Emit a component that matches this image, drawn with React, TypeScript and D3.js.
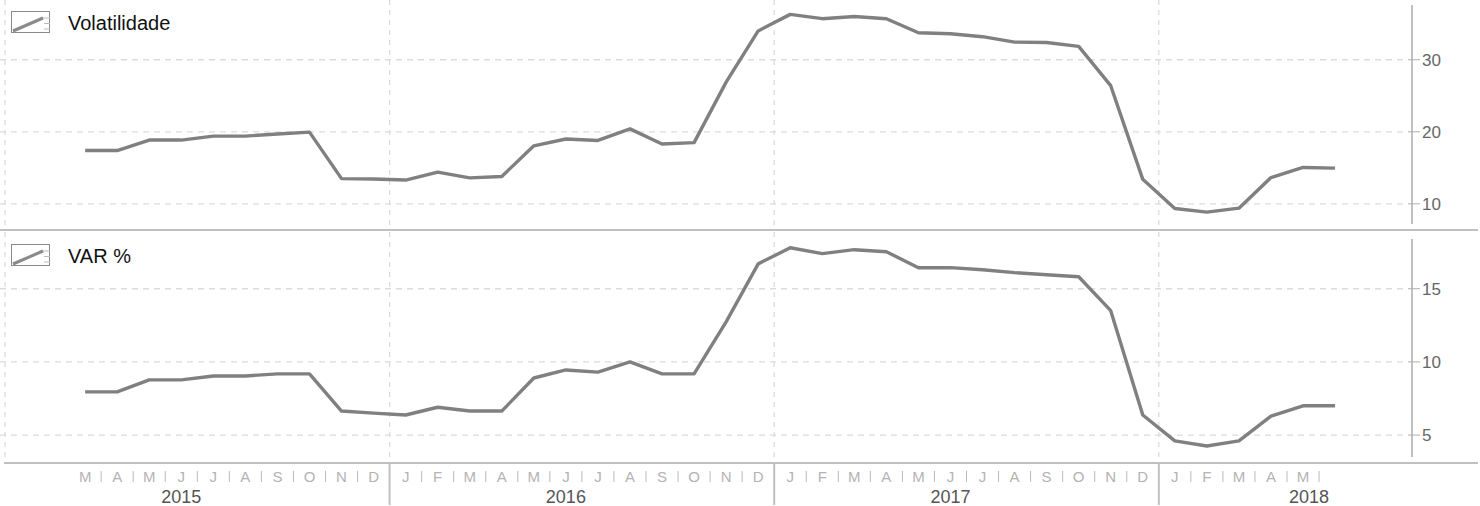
import React from 'react';
import * as d3 from 'd3';

// Month initials (Portuguese)
const monthInitials = ['J', 'F', 'M', 'A', 'M', 'J', 'J', 'A', 'S', 'O', 'N', 'D'];
const years = [2015, 2016, 2017, 2018];
// data from March 2015 (month index 2 counted from Jan 2015) to June 2018
const firstMonthIndex = 2;
const firstLabelIndex = 2; // Mar 2015
const lastLabelIndex = 40; // May 2018

const volatility = [
  17.4, 17.4, 18.85, 18.85, 19.4, 19.4, 19.7, 19.95, 13.5, 13.45,
  13.3, 14.4, 13.6, 13.8, 18.05, 19.0, 18.8, 20.4, 18.3, 18.5, 26.9, 34.0,
  36.3, 35.7, 36.0, 35.7, 33.75, 33.6, 33.2, 32.45, 32.4, 31.85, 26.4, 13.4,
  9.35, 8.85, 9.4, 13.65, 15.05, 14.95,
];
const varPct = [
  7.95, 7.95, 8.77, 8.77, 9.04, 9.04, 9.18, 9.18, 6.64, 6.5,
  6.37, 6.9, 6.64, 6.64, 8.9, 9.45, 9.3, 10.0, 9.18, 9.18, 12.74, 16.7,
  17.8, 17.4, 17.67, 17.53, 16.44, 16.44, 16.3, 16.1, 15.96, 15.82, 13.5, 6.37,
  4.6, 4.25, 4.6, 6.3, 7.0, 7.0,
];
const volTicks = [10, 20, 30];
const varTicks = [5, 10, 15];

const W = 1480;
const H = 506;
const FONT = '"Liberation Sans", Arial, sans-serif';

const x = d3.scaleLinear().domain([0, 42]).range([5, 5 + 42 * 32.05]);
const axisX = 1412;

type PanelProps = {
  values: number[];
  ticks: number[];
  domain: [number, number];
  range: [number, number];
  title: string;
  legendY: number;
  gridTop: number;
  gridBottom: number;
};

function Panel({ values, ticks, domain, range, title, legendY, gridTop, gridBottom }: PanelProps) {
  const y = d3.scaleLinear().domain(domain).range(range);
  const line = d3
    .line<number>()
    .x((_, i) => x(firstMonthIndex + i + 0.5))
    .y((d) => y(d));
  return (
    <g>
      {ticks.map((t) => (
        <line
          key={'h' + t}
          x1={0}
          x2={1404}
          y1={y(t)}
          y2={y(t)}
          stroke="#dcdcdc"
          strokeWidth={1.3}
          strokeDasharray="6,5"
        />
      ))}
      {years.map((yr, i) => (
        <line
          key={'v' + yr}
          x1={x(i * 12)}
          x2={x(i * 12)}
          y1={gridTop}
          y2={gridBottom}
          stroke="#dcdcdc"
          strokeWidth={1.3}
          strokeDasharray="5,5"
        />
      ))}
      <line x1={axisX} x2={axisX} y1={range[1]} y2={range[0]} stroke="#c0c0c0" strokeWidth={2} />
      {ticks.map((t) => (
        <g key={'t' + t}>
          <line x1={axisX - 4} x2={axisX + 8} y1={y(t)} y2={y(t)} stroke="#b0b0b0" strokeWidth={1} />
          <text x={1422} y={y(t)} dy="0.36em" fontSize={17} fill="#666" fontFamily={FONT}>
            {t}
          </text>
        </g>
      ))}
      <path d={line(values) || ''} fill="none" stroke="#808080" strokeWidth={3.4} strokeLinejoin="round" />
      {/* legend */}
      <g transform={`translate(11,${legendY})`}>
        <rect x={0.5} y={0.5} width={38} height={21} fill="#fff" stroke="#8a8a8a" strokeWidth={1} />
        <line x1={2} y1={20} x2={32} y2={7} stroke="#8a8a8a" strokeWidth={3} />
        <line x1={32} y1={7} x2={39} y2={7} stroke="#bbb" strokeWidth={1} />
        <line x1={33} y1={12.5} x2={39} y2={12.5} stroke="#bbb" strokeWidth={1} />
        <line x1={33} y1={18} x2={39} y2={18} stroke="#bbb" strokeWidth={1} />
      </g>
      <text x={68} y={legendY + 19} fontSize={20} fill="#111" fontFamily={FONT}>
        {title}
      </text>
    </g>
  );
}

export default function App() {
  const monthLabels: { i: number; label: string }[] = [];
  for (let i = firstLabelIndex; i <= lastLabelIndex; i++) {
    monthLabels.push({ i, label: monthInitials[i % 12] });
  }
  const yearLabelX = (k: number) =>
    Math.min(x(k * 12 + 5.5), x(lastLabelIndex + 1) - 10);
  return (
    <svg
      width={W}
      height={H}
      style={{ position: 'absolute', left: 0, top: 0, background: '#fff' }}
      fontFamily={FONT}
    >
      <Panel
        values={volatility}
        ticks={volTicks}
        domain={[7.2, 37.6]}
        range={[224, 5]}
        title="Volatilidade"
        legendY={11}
        gridTop={0}
        gridBottom={229}
      />
      <Panel
        values={varPct}
        ticks={varTicks}
        domain={[3.5, 18.4]}
        range={[457, 239]}
        title="VAR %"
        legendY={244}
        gridTop={232}
        gridBottom={462}
      />
      <line x1={0} x2={1478} y1={230} y2={230} stroke="#c0c0c0" strokeWidth={2} />
      <line x1={4} x2={1478} y1={463} y2={463} stroke="#c0c0c0" strokeWidth={2} />
      {/* month labels */}
      {monthLabels.map((m) => (
        <text
          key={'m' + m.i}
          x={x(m.i + 0.5)}
          y={482}
          textAnchor="middle"
          fontSize={15}
          fill="#b3b3b3"
        >
          {m.label}
        </text>
      ))}
      {monthLabels
        .filter((m) => (m.i + 1) % 12 !== 0)
        .map((m) => (
          <line
            key={'s' + m.i}
            x1={x(m.i + 1)}
            x2={x(m.i + 1)}
            y1={471}
            y2={482}
            stroke="#bbb"
            strokeWidth={1}
          />
        ))}
      {years.slice(1).map((yr, k) => (
        <line
          key={'ys' + yr}
          x1={x((k + 1) * 12)}
          x2={x((k + 1) * 12)}
          y1={463}
          y2={505}
          stroke="#c0c0c0"
          strokeWidth={2}
        />
      ))}
      {years.map((yr, k) => (
        <text key={'y' + yr} x={yearLabelX(k)} y={503} textAnchor="middle" fontSize={18} fill="#555">
          {yr}
        </text>
      ))}
    </svg>
  );
}
